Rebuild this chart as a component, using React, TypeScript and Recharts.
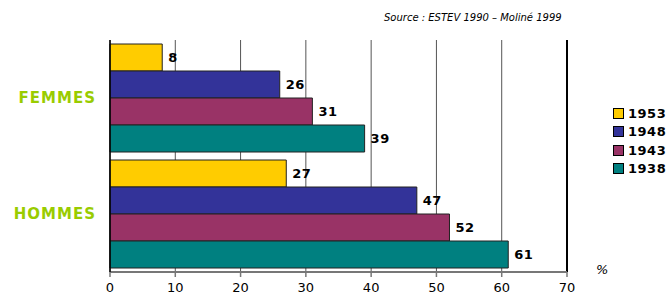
import { BarChart, Bar, XAxis, YAxis, CartesianGrid, Legend, LabelList, ReferenceLine } from 'recharts';

// groups, top to bottom
const GROUPS = ['FEMMES', 'HOMMES'];

// cohorts in the order they appear (top bar first)
const COHORTS = ['1953', '1948', '1943', '1938'];
const COHORT_COLORS = ['#ffcc00', '#333399', '#993366', '#008080'];

// % per cohort, FEMMES then HOMMES
const V1953 = [8, 27];
const V1948 = [26, 47];
const V1943 = [31, 52];
const V1938 = [39, 61];

const X_TICKS = [0, 10, 20, 30, 40, 50, 60, 70];

const SERIES = [V1953, V1948, V1943, V1938];

const data = GROUPS.map((name, i) => {
  const row: Record<string, string | number> = { name };
  COHORTS.forEach((c, j) => {
    row[c] = SERIES[j][i];
  });
  return row;
});

const FONT = '"DejaVu Sans", Verdana, sans-serif';

const CategoryTick = ({ x, y, payload }: any) => (
  <g>
    <text
      x={x - 6}
      y={y}
      dy={5}
      textAnchor="end"
      fill="#99cc00"
      fontFamily={FONT}
      fontWeight="bold"
      fontSize={15}
      letterSpacing={1}
    >
      {payload.value}
    </text>
  </g>
);

const LegendBox = () => (
  <div style={{ fontFamily: FONT, fontWeight: 'bold', fontSize: 13, color: '#000', letterSpacing: 0.5 }}>
    {COHORTS.map((c, i) => (
      <div key={c} style={{ display: 'flex', alignItems: 'center', height: 18.5 }}>
        <span
          style={{
            display: 'inline-block',
            width: 9,
            height: 9,
            background: COHORT_COLORS[i],
            border: '1px solid #000',
            marginRight: 4,
          }}
        />
        <span>{c}</span>
      </div>
    ))}
  </div>
);

export default function App() {
  return (
    <div style={{ position: 'absolute', left: 0, top: 0, width: 669, height: 300, background: '#fff' }}>
      <div
        style={{
          position: 'absolute',
          left: 384,
          top: 12,
          fontFamily: FONT,
          fontStyle: 'italic',
          fontSize: 10,
          color: '#000',
          whiteSpace: 'nowrap',
        }}
      >
        Source : ESTEV 1990 – Moliné 1999
      </div>
      <div
        style={{
          position: 'absolute',
          left: 596,
          top: 262,
          fontFamily: FONT,
          fontStyle: 'italic',
          fontSize: 13,
          color: '#000',
        }}
      >
        %
      </div>
      <BarChart
        width={669}
        height={300}
        data={data}
        layout="vertical"
        margin={{ top: 40, right: 42, bottom: 0, left: 0 }}
        barCategoryGap={4}
        barGap={0}
      >
        <CartesianGrid horizontal={false} vertical stroke="#555" strokeWidth={1} />
        <XAxis
          type="number"
          domain={[0, 70]}
          ticks={X_TICKS}
          interval={0}
          height={28}
          axisLine={{ stroke: '#777', strokeWidth: 2 }}
          tickLine={{ stroke: '#777', strokeWidth: 1.5 }}
          tickSize={5}
          tick={{ fill: '#000', fontFamily: FONT, fontSize: 13 }}
          tickMargin={6}
        />
        <YAxis
          type="category"
          dataKey="name"
          width={110}
          axisLine={{ stroke: '#000', strokeWidth: 1.5 }}
          tickLine={false}
          tick={<CategoryTick />}
        />
        <ReferenceLine x={70} stroke="#000" strokeWidth={2} />
        {COHORTS.map((c, i) => (
          <Bar
            key={c}
            dataKey={c}
            fill={COHORT_COLORS[i]}
            stroke="#222"
            strokeWidth={1}
            isAnimationActive={false}
          >
            <LabelList
              dataKey={c}
              position="right"
              offset={6}
              fill="#000"
              fontFamily={FONT}
              fontWeight="bold"
              fontSize={13}
              letterSpacing={0.5}
            />
          </Bar>
        ))}
        <Legend
          layout="vertical"
          verticalAlign="middle"
          align="right"
          content={<LegendBox />}
          wrapperStyle={{ position: 'absolute', left: 613, top: 104, width: 60 }}
        />
      </BarChart>
    </div>
  );
}
